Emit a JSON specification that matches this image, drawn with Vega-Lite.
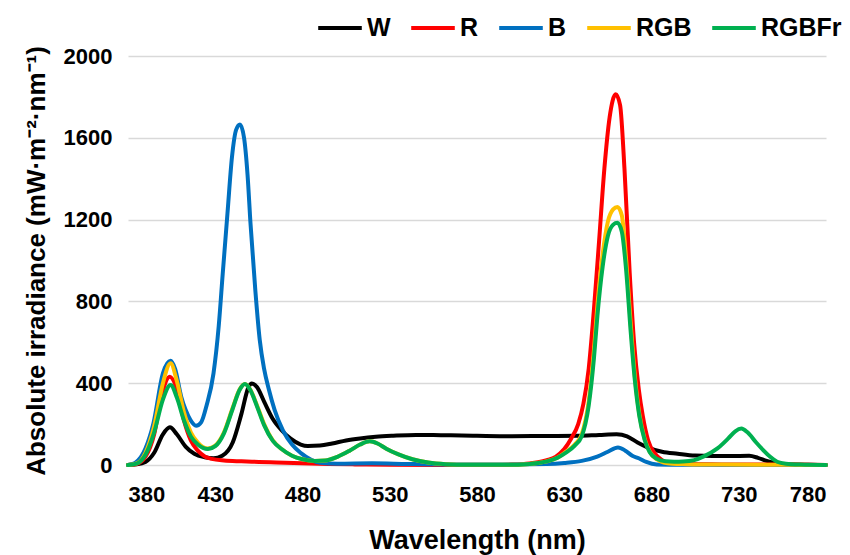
{
  "$schema": "https://vega.github.io/schema/vega-lite/v6.json",
  "autosize": {"type": "none"},
  "width": 698,
  "height": 409,
  "padding": {"left": 128, "top": 56, "right": 24, "bottom": 90},
  "background": "white",
  "config": {
    "view": {"stroke": null},
    "font": "Liberation Sans",
    "axis": {"labelFont": "Liberation Sans", "titleFont": "Liberation Sans", "labelFontWeight": "bold", "titleFontWeight": "bold", "labelColor": "#000000", "titleColor": "#000000"},
    "legend": {"labelFont": "Liberation Sans"}
  },
  "datasets": {
    "W": [
      [380,0],[385,3],[390,15],[395,60],[400,150],[404,184],[408,150],[413,90],[418,55],[424,38],[429,33],[434,45],[440,110],[445,250],[449,380],[451,399],[454,380],[458,310],[463,225],[468,170],[473,130],[479,100],[483,93],[490,95],[497,105],[505,120],[513,130],[522,138],[532,143],[545,147],[555,147],[565,145],[580,143],[600,141],[620,142],[638,143],[650,147],[660,150],[666,140],[672,110],[678,85],[686,65],[695,55],[705,46],[715,44],[725,44],[736,45],[741,35],[746,20],[750,11],[756,4],[762,2],[770,1],[780,0]
    ],
    "R": [
      [380,0],[385,5],[390,40],[395,150],[399,330],[404,432],[408,370],[412,220],[416,120],[420,70],[424,42],[428,30],[435,22],[445,18],[455,15],[465,12],[480,8],[495,5],[510,3],[530,1],[560,0],[590,0],[600,2],[610,8],[615,14],[620,24],[625,40],[630,78],[634,130],[638,200],[641,300],[644,470],[647,760],[650,1100],[653,1450],[656,1700],[659.5,1813],[662,1760],[664.5,1450],[667.5,940],[670,600],[672.7,370],[675,240],[678,122],[682,55],[686,24],[690,10],[695,5],[720,3],[740,3],[760,2],[780,0]
    ],
    "B": [
      [380,0],[384,10],[390,80],[394.6,204],[400,448],[404.4,510],[407,470],[410.5,334],[413,270],[415.8,220],[419,192],[422,210],[425,290],[429,448],[432,680],[434.3,937],[437,1230],[439.6,1507],[442,1640],[444.2,1665],[446.5,1600],[448.5,1420],[450.2,1181],[453,850],[455.5,611],[458,470],[460.8,367],[464,270],[468.7,171],[474,100],[479.3,57],[485,25],[490,11],[500,6],[520,8],[540,5],[560,3],[600,3],[620,5],[630,10],[640,20],[648.9,41],[655,65],[660.8,86],[665,70],[669,45],[672.7,33],[677,15],[683,3],[700,1],[780,0]
    ],
    "RGB": [
      [380,0],[385,8],[390,60],[395,190],[400,400],[404.4,497],[408,410],[412,260],[416,160],[420,110],[425.8,81],[430,95],[435,160],[440,280],[444,370],[447,396],[450,370],[454,290],[458,200],[463,120],[468,78],[474,45],[480,28],[487,20],[493,22],[500,40],[507,70],[513,100],[518.5,116],[523,105],[528,80],[535,52],[543,28],[552,12],[562,4],[575,1],[600,1],[608,4],[615,10],[620,18],[626,35],[631,65],[636,100],[640,150],[644,310],[647,560],[649,780],[652,1030],[655,1190],[658,1250],[660.5,1262],[663,1220],[665.5,1000],[668,700],[670.5,430],[673,250],[676,130],[679,65],[683,28],[687,12],[692,6],[700,4],[720,2],[760,1],[780,0]
    ],
    "RGBFr": [
      [380,0],[385,7],[390,50],[395,160],[400,320],[404.4,391],[408,330],[412,220],[416,140],[420,100],[425.8,78],[430,92],[435,155],[440,275],[444,368],[447,396],[450,368],[454,285],[458,195],[463,118],[468,78],[474,45],[480,28],[487,20],[493,22],[500,40],[507,70],[513,100],[518.5,116],[523,105],[528,80],[535,52],[543,28],[552,12],[562,4],[575,1],[600,1],[608,4],[615,10],[620,18],[626,35],[631,60],[636,95],[640,140],[644,290],[647,520],[649,730],[652,970],[655,1120],[658,1175],[660.5,1184],[663,1140],[665.5,950],[668,660],[670.5,410],[673,240],[676,125],[679,62],[683,30],[688,18],[693,16],[698,17],[704.5,24],[710,42],[717.8,81],[724,130],[728,165],[731.5,178],[735,160],[740,110],[744,73],[748,40],[752,16],[757,6],[765,2],[780,0]
    ]
  },
  "layer": [
    {"data": {"name": "W"}, "transform": [{"calculate": "'W'", "as": "series"}, {"calculate": "datum[0]", "as": "wl"}, {"calculate": "datum[1]", "as": "value"}], "mark": {"type": "line", "interpolate": "monotone", "strokeWidth": 4, "strokeCap": "round", "strokeJoin": "round"}, "encoding": {"x": {"field": "wl", "type": "quantitative"}, "y": {"field": "value", "type": "quantitative"}, "color": {"field": "series", "type": "nominal"}}},
    {"data": {"name": "R"}, "transform": [{"calculate": "'R'", "as": "series"}, {"calculate": "datum[0]", "as": "wl"}, {"calculate": "datum[1]", "as": "value"}], "mark": {"type": "line", "interpolate": "monotone", "strokeWidth": 4, "strokeCap": "round", "strokeJoin": "round"}, "encoding": {"x": {"field": "wl", "type": "quantitative"}, "y": {"field": "value", "type": "quantitative"}, "color": {"field": "series", "type": "nominal"}}},
    {"data": {"name": "B"}, "transform": [{"calculate": "'B'", "as": "series"}, {"calculate": "datum[0]", "as": "wl"}, {"calculate": "datum[1]", "as": "value"}], "mark": {"type": "line", "interpolate": "monotone", "strokeWidth": 4, "strokeCap": "round", "strokeJoin": "round"}, "encoding": {"x": {"field": "wl", "type": "quantitative"}, "y": {"field": "value", "type": "quantitative"}, "color": {"field": "series", "type": "nominal"}}},
    {"data": {"name": "RGB"}, "transform": [{"calculate": "'RGB'", "as": "series"}, {"calculate": "datum[0]", "as": "wl"}, {"calculate": "datum[1]", "as": "value"}], "mark": {"type": "line", "interpolate": "monotone", "strokeWidth": 4, "strokeCap": "round", "strokeJoin": "round"}, "encoding": {"x": {"field": "wl", "type": "quantitative"}, "y": {"field": "value", "type": "quantitative"}, "color": {"field": "series", "type": "nominal"}}},
    {"data": {"name": "RGBFr"}, "transform": [{"calculate": "'RGBFr'", "as": "series"}, {"calculate": "datum[0]", "as": "wl"}, {"calculate": "datum[1]", "as": "value"}], "mark": {"type": "line", "interpolate": "monotone", "strokeWidth": 4, "strokeCap": "round", "strokeJoin": "round"}, "encoding": {"x": {"field": "wl", "type": "quantitative"}, "y": {"field": "value", "type": "quantitative"}, "color": {"field": "series", "type": "nominal"}}}
  ],
  "resolve": {"scale": {"color": "shared"}},
  "encoding": {
    "x": {"field": "wl", "type": "quantitative", "scale": {"domain": [380, 780], "nice": false, "zero": false},
      "axis": {"title": "Wavelength (nm)", "values": [380,430,480,530,580,630,680,730,780], "format": "d", "grid": false, "domain": false, "ticks": false, "labelFontSize": 22, "labelPadding": 19, "titleFontSize": 27, "titlePadding": 22}},
    "y": {"field": "value", "type": "quantitative", "scale": {"domain": [0, 2000], "nice": false},
      "axis": {"title": "Absolute irradiance (mW·m⁻²·nm⁻¹)", "values": [0,400,800,1200,1600,2000], "format": "d", "grid": true, "gridColor": "#D9D9D9", "gridWidth": 1.5, "domain": false, "ticks": false, "labelFontSize": 22, "labelPadding": 16, "titleFontSize": 26, "titlePadding": 14}},
    "color": {"field": "series", "type": "nominal", "scale": {"domain": ["W","R","B","RGB","RGBFr"], "range": ["#000000","#FF0000","#0070C0","#FFC000","#00B050"]},
      "legend": {"title": null, "orient": "none", "direction": "horizontal", "legendX": 188, "legendY": -52, "padding": 0, "symbolType": "stroke", "symbolSize": 1900, "symbolStrokeWidth": 4, "labelFontSize": 25, "labelFontWeight": "bold", "labelColor": "#000000", "labelOffset": 3, "columnPadding": 12, "labelLimit": 200}}
  }
}
